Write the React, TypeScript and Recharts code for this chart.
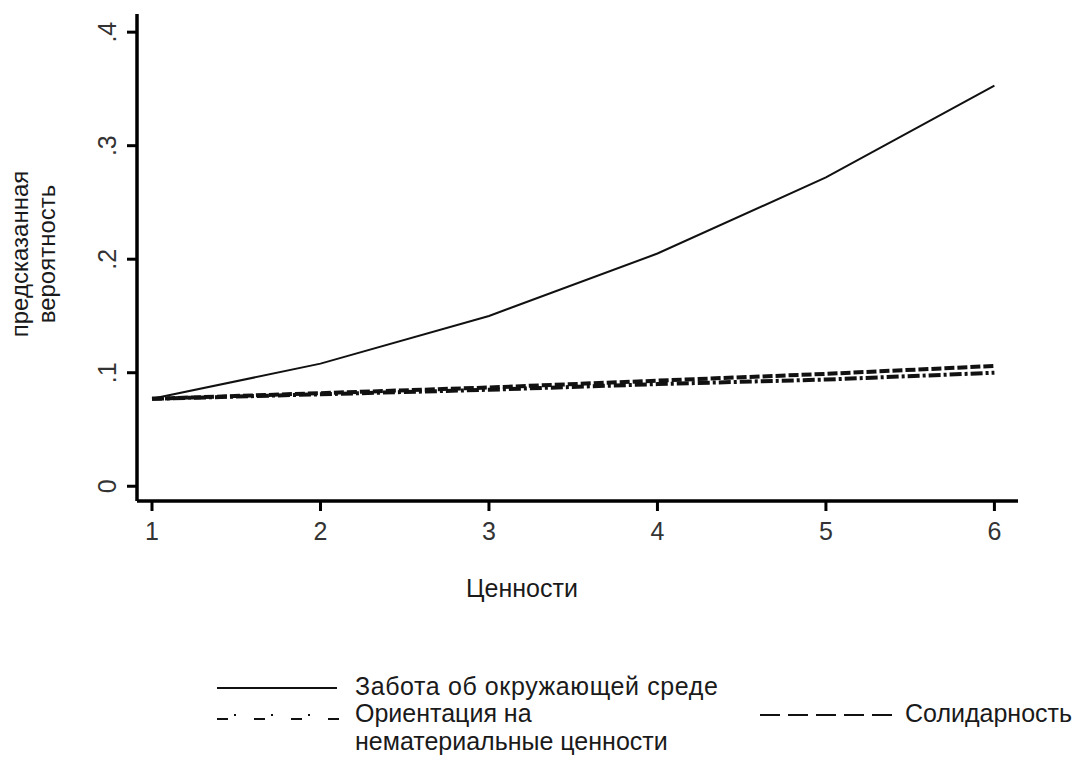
import {LineChart, Line, XAxis, YAxis} from 'recharts';

const values = [1, 2, 3, 4, 5, 6];
const environment = [0.077, 0.108, 0.15, 0.205, 0.272, 0.353];
const nonMaterial = [0.077, 0.081, 0.085, 0.09, 0.094, 0.1];
const solidarity = [0.077, 0.082, 0.087, 0.093, 0.099, 0.106];
const yTicks = [0, 0.1, 0.2, 0.3, 0.4];

const data = values.map((v, i) => ({
  v,
  environment: environment[i],
  nonMaterial: nonMaterial[i],
  solidarity: solidarity[i],
}));

const font = '"Liberation Sans", Arial, sans-serif';

function YTick(props: any) {
  const {x, y, payload} = props;
  const label = payload.value === 0 ? '0' : payload.value.toFixed(1).replace('0.', '.');
  const bx = x - 9;
  return (
    <text
      x={bx}
      y={y}
      transform={`rotate(-90 ${bx} ${y})`}
      textAnchor="middle"
      fontSize={25}
      fontFamily={font}
      fill="#333"
    >
      {label}
    </text>
  );
}

function XTick(props: any) {
  const {x, y, payload} = props;
  return (
    <text x={x} y={y + 27} textAnchor="middle" fontSize={25} fontFamily={font} fill="#333">
      {payload.value}
    </text>
  );
}

function DashDot() {
  return (
    <svg width={124} height={14} style={{display: 'block'}}>
      {[0, 1, 2, 3].map((i) => (
        <rect key={`d${i}`} x={i * 37} y={10} width={11} height={2} fill="#111" />
      ))}
      {[0, 1, 2].map((i) => (
        <rect key={`p${i}`} x={i * 37 + 17} y={6} width={2} height={2} fill="#111" />
      ))}
    </svg>
  );
}

export default function App() {
  const text = {fontSize: 25, color: '#1a1a1a', whiteSpace: 'nowrap' as const};
  return (
    <div style={{position: 'absolute', left: 0, top: 0, width: 1072, height: 781, background: '#fff', fontFamily: font}}>
      <LineChart
        width={1072}
        height={781}
        data={data}
        margin={{top: 14, right: 54, bottom: 240, left: 97}}
      >
        <XAxis
          dataKey="v"
          type="number"
          domain={[0.911, 6.14]}
          ticks={values}
          allowDataOverflow
          axisLine={{stroke: '#000', strokeWidth: 3.5}}
          tickLine={{stroke: '#000', strokeWidth: 3}}
          tickSize={10}
          height={40}
          tick={<XTick />}
        />
        <YAxis
          type="number"
          domain={[-0.013, 0.416]}
          ticks={yTicks}
          allowDataOverflow
          axisLine={{stroke: '#000', strokeWidth: 3.5}}
          tickLine={{stroke: '#000', strokeWidth: 3}}
          tickSize={10}
          width={40}
          tick={<YTick />}
        />
        <Line
          dataKey="environment"
          stroke="#111"
          strokeWidth={2}
          dot={false}
          isAnimationActive={false}
        />
        <Line
          dataKey="nonMaterial"
          stroke="#111"
          strokeWidth={4}
          strokeDasharray="12 3 3 3"
          dot={false}
          isAnimationActive={false}
        />
        <Line
          dataKey="solidarity"
          stroke="#111"
          strokeWidth={4}
          strokeDasharray="10 3"
          dot={false}
          isAnimationActive={false}
        />
      </LineChart>

      <div
        style={{
          position: 'absolute',
          left: 33,
          top: 254,
          transform: 'translate(-50%, -50%) rotate(-90deg)',
          fontSize: 24,
          lineHeight: '27px',
          textAlign: 'center',
          whiteSpace: 'nowrap',
          color: '#1a1a1a',
        }}
      >
        предсказанная
        <br />
        вероятность
      </div>

      <div style={{...text, position: 'absolute', left: 522, top: 588, transform: 'translate(-50%, -50%)'}}>
        Ценности
      </div>

      <div style={{position: 'absolute', left: 217, top: 687, width: 120, height: 2, background: '#111'}} />
      <div style={{...text, position: 'absolute', left: 355, top: 672, lineHeight: '28px', letterSpacing: 0.6}}>
        Забота об окружающей среде
      </div>

      <div style={{position: 'absolute', left: 217, top: 708}}>
        <DashDot />
      </div>
      <div style={{...text, position: 'absolute', left: 355, top: 699, lineHeight: '28px'}}>
        Ориентация на
        <br />
        нематериальные ценности
      </div>

      <svg width={132} height={6} style={{position: 'absolute', left: 760, top: 712}}>
        <line x1={0} y1={3} x2={132} y2={3} stroke="#111" strokeWidth={2} strokeDasharray="20 8" />
      </svg>
      <div style={{...text, position: 'absolute', left: 905, top: 699, lineHeight: '28px'}}>
        Солидарность
      </div>
    </div>
  );
}
